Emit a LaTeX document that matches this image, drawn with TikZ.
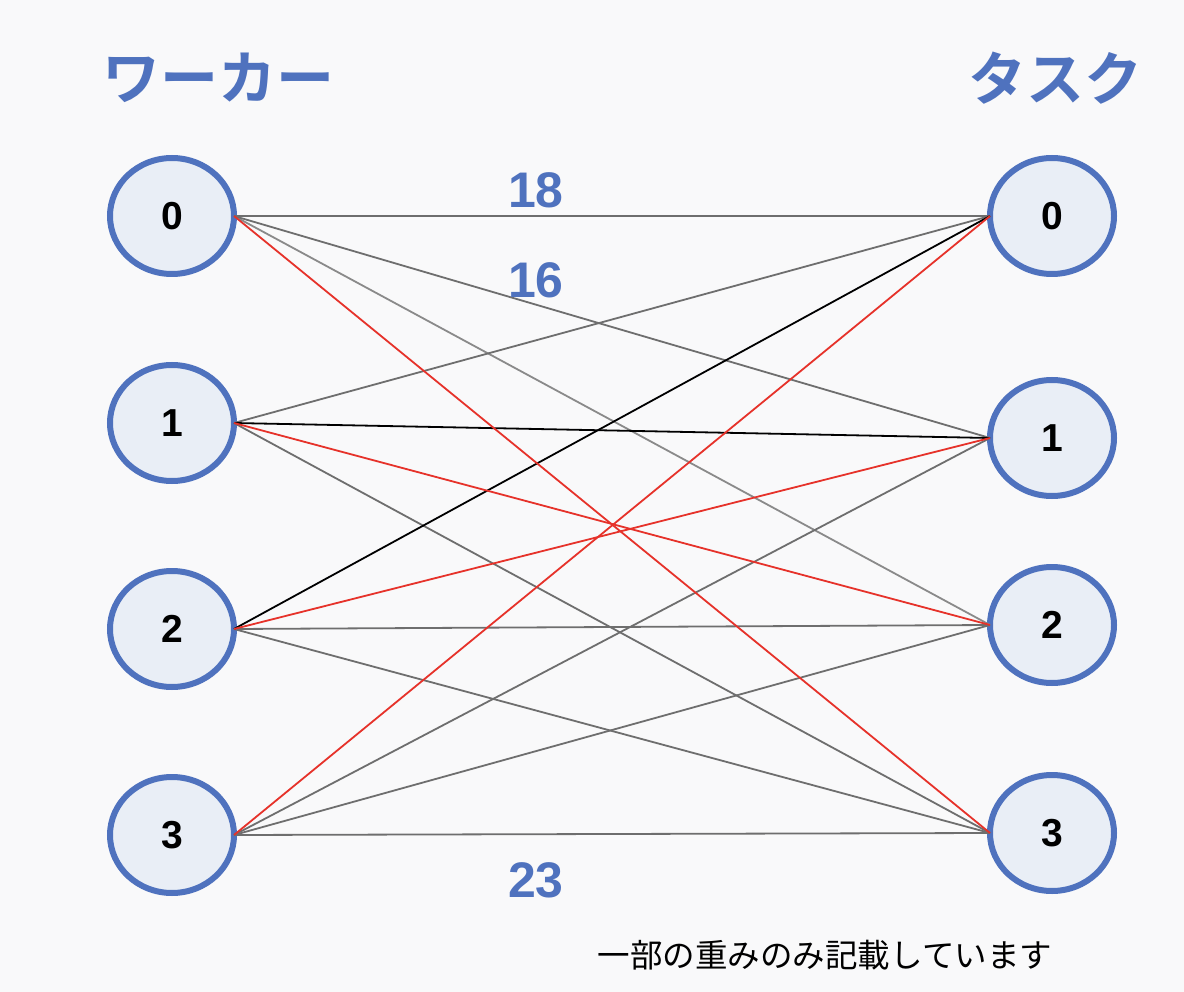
\documentclass[tikz,border=0pt]{standalone}
\usepackage{fontspec}
\setmainfont{Liberation Sans}
\newfontfamily\jpbold{Noto Sans CJK JP Bold}
\newfontfamily\jpreg{Noto Sans CJK JP}
\usetikzlibrary{shapes.geometric}
\definecolor{nodeblue}{HTML}{4F72BE}
\definecolor{nodefill}{HTML}{E9EEF6}
\definecolor{edgegray}{HTML}{6E6E6E}
\definecolor{edgelight}{HTML}{8A8A8A}
\definecolor{edgered}{HTML}{E6322A}
\definecolor{bgcol}{HTML}{F9F9FA}
\begin{document}
\begin{tikzpicture}[x=1pt,y=-1pt,
  vert/.style={ellipse,draw=nodeblue,fill=nodefill,line width=6pt,
    minimum width=124pt,minimum height=116pt,inner sep=0pt,outer sep=0pt,
    font=\fontsize{39}{41}\selectfont\bfseries},
  edge/.style={line width=1.8pt,edgegray},
  edgel/.style={line width=1.8pt,edgelight},
  edger/.style={line width=1.8pt,edgered},
  edgek/.style={line width=1.8pt,black},
  weight/.style={text=nodeblue,font=\fontsize{50}{52}\selectfont\bfseries,inner sep=0pt},
  title/.style={text=nodeblue,font=\fontsize{58}{60}\selectfont\jpbold,inner sep=0pt}]
\fill[bgcol] (0,0) rectangle (1184,992);
\useasboundingbox (0,0) rectangle (1184,992);
% titles
\node[title] (tw) at (218,78) {ワーカー};
\node[title] (tt) at (1055,78) {タスク};
% nodes
\node[vert] (L0) at (172,216) {0};
\node[vert] (L1) at (172,423) {1};
\node[vert] (L2) at (172,629) {2};
\node[vert] (L3) at (172,835) {3};
\node[vert] (R0) at (1052,216) {0};
\node[vert] (R1) at (1052,438) {1};
\node[vert] (R2) at (1052,625) {2};
\node[vert] (R3) at (1052,833) {3};
% edges
\draw[edgel] (L0.east) -- (R2.west);
\draw[edge] (L0.east) -- (R0.west);
\draw[edge] (L0.east) -- (R1.west);
\draw[edge] (L1.east) -- (R0.west);
\draw[edge] (L1.east) -- (R3.west);
\draw[edge] (L2.east) -- (R2.west);
\draw[edge] (L2.east) -- (R3.west);
\draw[edge] (L3.east) -- (R1.west);
\draw[edge] (L3.east) -- (R2.west);
\draw[edge] (L3.east) -- (R3.west);
\draw[edgek] (L1.east) -- (R1.west);
\draw[edgek] (L2.east) -- (R0.west);
\draw[edger] (L0.east) -- (R3.west);
\draw[edger] (L1.east) -- (R2.west);
\draw[edger] (L2.east) -- (R1.west);
\draw[edger] (L3.east) -- (R0.west);
% weights
\node[weight] (w18) at (536,190) {18};
\node[weight] (w16) at (536,280) {16};
\node[weight] (w23) at (536,880) {23};
% footnote
\node[inner sep=0pt,font=\fontsize{32.5}{34}\selectfont\jpreg,text=black] (note) at (825,955) {一部の重みのみ記載しています};
\end{tikzpicture}
\end{document}
